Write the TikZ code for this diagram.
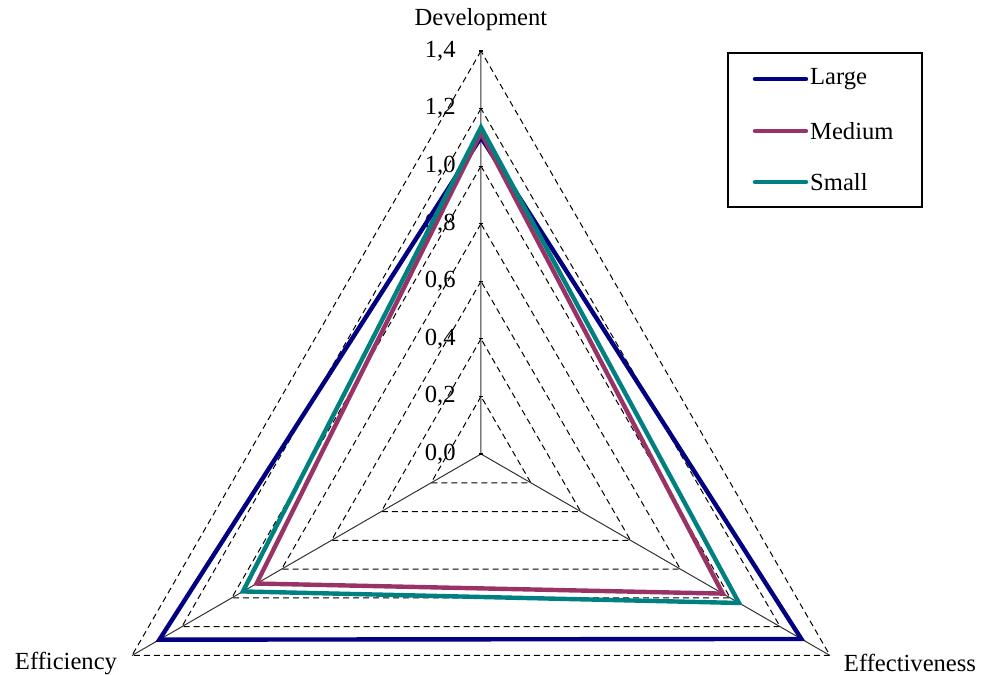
\documentclass[tikz,border=0pt]{standalone}
\usepackage{fontspec}
\setmainfont{Liberation Serif}
\usepackage{xcolor}
\usetikzlibrary{positioning, calc}

\definecolor{large}{RGB}{0,0,128}
\definecolor{medium}{RGB}{153,51,102}
\definecolor{small}{RGB}{0,128,128}

\begin{document}
\begin{tikzpicture}[x=0.5pt, y=0.5pt, font=\fontsize{12.3}{14}\selectfont,
    grid/.style={densely dashed, line width=0.5pt},
    series/.style={line width=2.2pt, line join=miter}]
    \useasboundingbox (-481,-221) rectangle (505,454);
    \def\unitr{287.86}

    % axes
    \coordinate (O) at (0,0);
    \coordinate (dev) at (90:403);
    \coordinate (eff) at (210:403);
    \coordinate (effv) at (330:403);

    % dashed grid, one triangle every 0,2
    \foreach \k in {1,...,7}
      \draw[grid] (90:{\k*57.57}) -- (210:{\k*57.57}) -- (330:{\k*57.57}) -- cycle;

    \draw[black!80, line width=0.5pt] (O) -- (dev) (O) -- (eff) (O) -- (effv);

    % scale on the vertical axis
    \foreach \k/\lab in {0/{0,0}, 1/{0,2}, 2/{0,4}, 3/{0,6}, 4/{0,8}, 5/{1,0}, 6/{1,2}, 7/{1,4}} {
      \draw[line width=0.6pt] (-2,{\k*57.57}) -- (2,{\k*57.57});
      \node[anchor=east, inner sep=0pt] (tick\k) at (-25,{\k*57.57}) {\lab};
    }

    % data
    \draw[series, large] (90:{1.10*\unitr}) -- (210:{1.29*\unitr}) -- (330:{1.285*\unitr}) -- cycle;
    \draw[series, medium] (90:{1.115*\unitr}) -- (210:{0.90*\unitr}) -- (330:{0.97*\unitr}) -- cycle;
    \draw[series, small] (90:{1.135*\unitr}) -- (210:{0.955*\unitr}) -- (330:{1.035*\unitr}) -- cycle;

    % axis names
    \node (ndev) at (0,434) {Development};
    \node (neff) at (-415,-209) {Efficiency};
    \node (neffv) at (429,-209) {Effectiveness};

    % legend
    \draw[line width=0.6pt] (247,247) rectangle (441,401);
    \foreach \name/\col/\y in {Large/large/375, Medium/medium/323, Small/small/272}
      \draw[series, \col, line cap=round] (274,\y) -- (325,\y)
        node[right, inner sep=1pt, text=black] (leg\name) {\name};
  \end{tikzpicture}
\end{document}
